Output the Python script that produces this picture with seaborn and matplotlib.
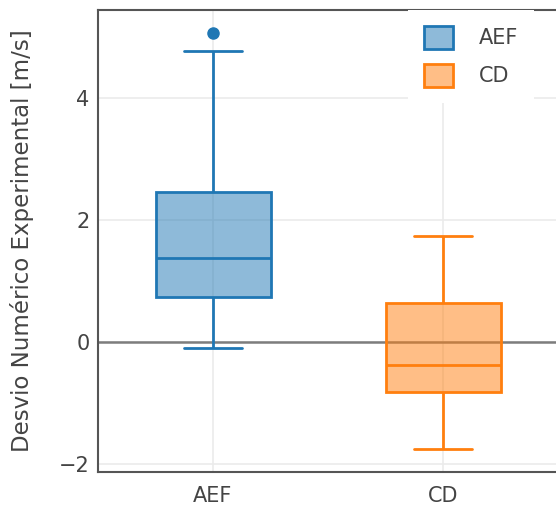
import matplotlib
matplotlib.use("Agg")
import matplotlib.pyplot as plt
from matplotlib.patches import Patch
from matplotlib.colors import to_rgba
from matplotlib.transforms import blended_transform_factory
import pandas as pd
import seaborn as sns

grupos = ["AEF", "CD"]
cores = ["#1f77b4", "#ff7f0e"]

# Per-group summaries: lower whisker, Q1, median, Q3, upper whisker
resumo_aef = [-0.11, 0.74, 1.38, 2.45, 4.77]
outliers_aef = [5.07]
resumo_cd = [-1.76, -0.83, -0.38, 0.63, 1.74]
outliers_cd = []

y_ticks = [-2, 0, 2, 4]
y_lim = (-2.136, 5.443)


def amostra(resumo, outliers):
    """Nine-point sample whose linear quartiles reproduce the summary."""
    lo, q1, med, q3, hi = resumo
    base = [lo, q1, q1, med, med, q3, q3, hi]
    return base + (list(outliers) if outliers else [hi])


df = pd.DataFrame({
    "grupo": ["AEF"] * 9 + ["CD"] * 9,
    "desvio": amostra(resumo_aef, outliers_aef) + amostra(resumo_cd, outliers_cd),
})

sns.set_style("white")
plt.rcParams["font.family"] = ["DejaVu Sans"]
texto = "#444444"
fs = 15

fig = plt.figure(figsize=(5.56, 5.09), dpi=100)
ax = fig.add_axes([98 / 556, 1 - 472 / 509, 460 / 556, 462 / 509])

sns.boxplot(
    data=df, x="grupo", y="desvio", hue="grupo",
    order=grupos, hue_order=grupos, palette=cores,
    width=0.5, linewidth=2, saturation=1, fliersize=8,
    legend=False, ax=ax,
)

for cont, cor in zip(ax.containers, cores):
    for caixa in cont.boxes:
        caixa.set_facecolor(to_rgba(cor, 0.5))
        caixa.set_edgecolor(cor)
        caixa.set_linewidth(2)
    for ln in list(cont.whiskers) + list(cont.caps) + list(cont.medians):
        ln.set_color(cor)
        ln.set_linewidth(2)
    for fl in cont.fliers:
        fl.set_marker("o")
        fl.set_markerfacecolor(cor)
        fl.set_markeredgecolor(cor)
        fl.set_markersize(8)

ax.set_xlim(-0.5, 1.5)
ax.set_ylim(*y_lim)
ax.set_yticks(y_ticks)
ax.set_axisbelow(True)
ax.grid(True, color="#ebebeb", linewidth=1.2)
ax.axhline(0, color="#7d7d7d", linewidth=1.8, zorder=0.8)

for lado in ["left", "top", "bottom"]:
    ax.spines[lado].set_color("#555555")
    ax.spines[lado].set_linewidth(1.5)
ax.spines["right"].set_visible(False)

ax.tick_params(axis="both", length=0, labelsize=fs, labelcolor=texto)
ax.tick_params(axis="y", pad=6)
ax.tick_params(axis="x", pad=10)
ax.set_xlabel("")
ax.set_ylabel("Desvio Numérico Experimental [m/s]", fontsize=16.5, color=texto)
ax.yaxis.set_label_coords(
    22 / 556, 0.5, transform=blended_transform_factory(fig.transFigure, ax.transAxes)
)
ax.yaxis.label.set_verticalalignment("center")

alcas = [Patch(facecolor=to_rgba(c, 0.5), edgecolor=c, linewidth=2, label=g)
         for g, c in zip(grupos, cores)]
leg = ax.legend(
    handles=alcas, loc="upper left", bbox_to_anchor=(408 / 556, 1 - 10 / 509),
    bbox_transform=fig.transFigure, frameon=True, fontsize=fs,
    handlelength=1.4, handleheight=1.35, handletextpad=1.25, labelspacing=0.7,
    borderaxespad=0, borderpad=0.75,
)
leg.get_frame().set_facecolor("white")
leg.get_frame().set_edgecolor("none")
leg.get_frame().set_alpha(1)
leg.get_frame().set_boxstyle("square", pad=0)
for t in leg.get_texts():
    t.set_color(texto)

fig.savefig("out.png", dpi=100)
